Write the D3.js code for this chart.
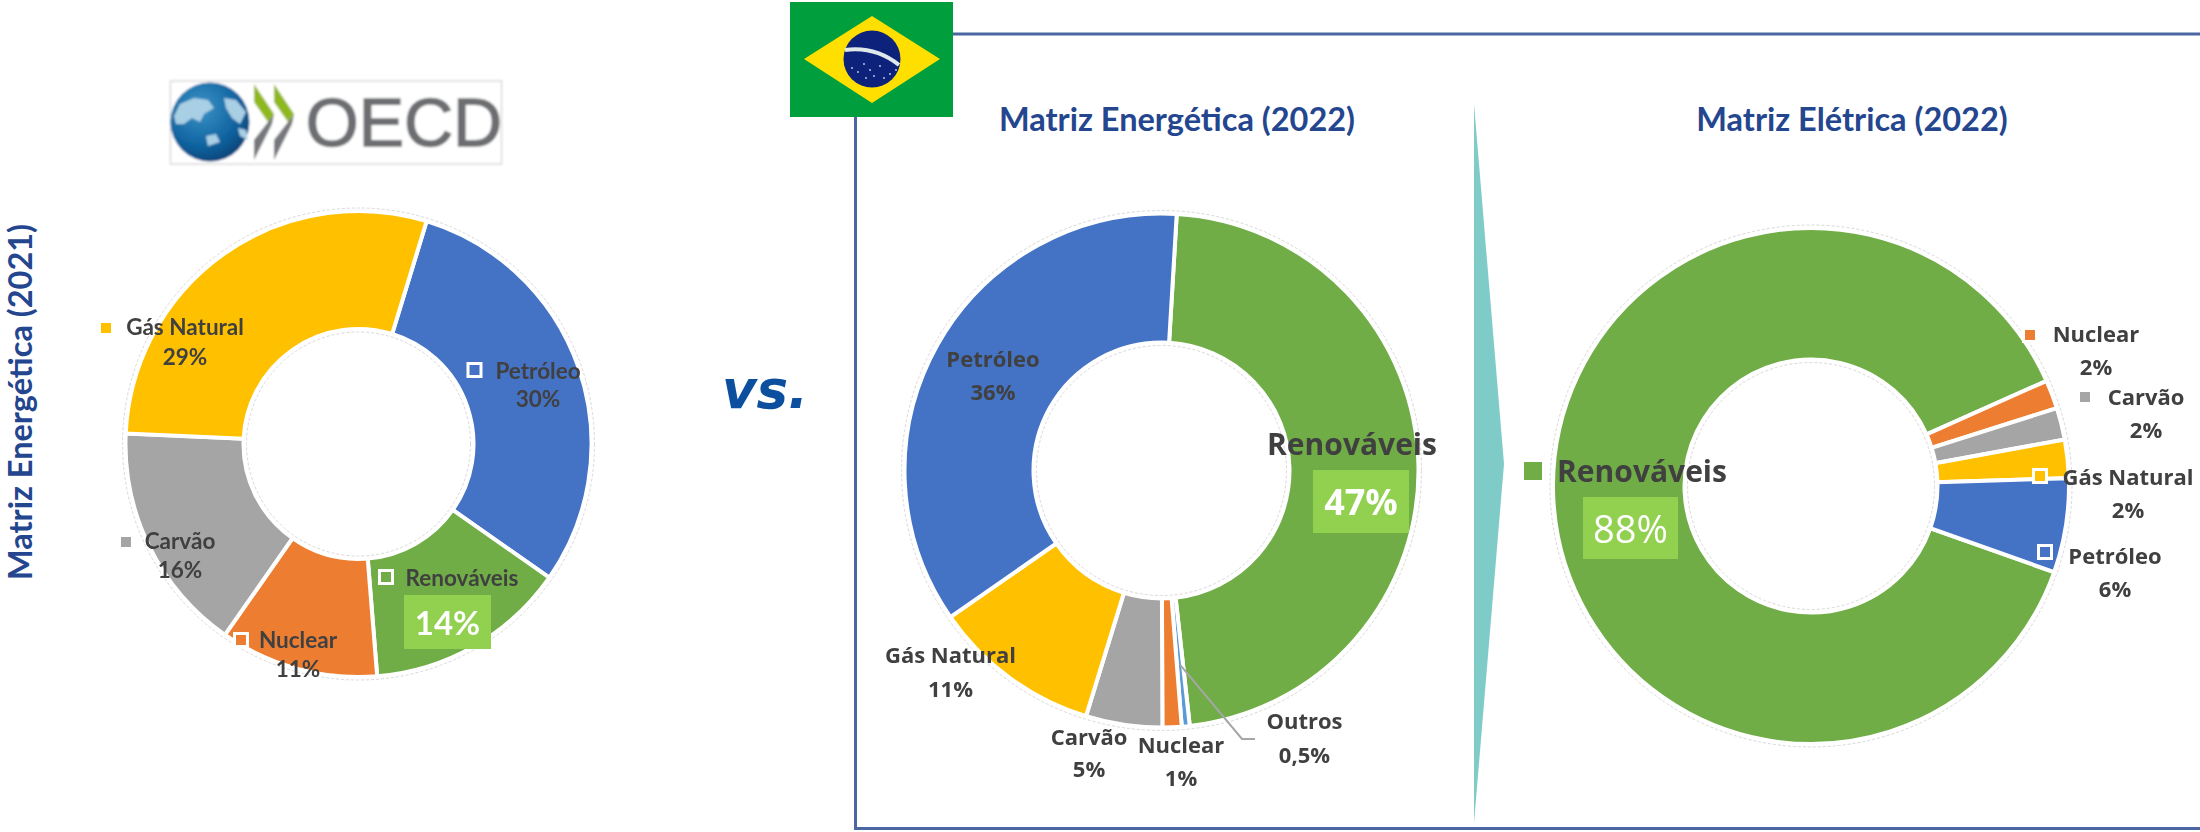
<!DOCTYPE html>
<html>
<head>
<meta charset="utf-8">
<title>Matriz Energética</title>
<script src="https://cdn.jsdelivr.net/npm/d3@7"></script>
<style>
	html, body { margin: 0; padding: 0; background: #fff; }
	svg { display: block; }
	text { font-family: Lato, "Open Sans", sans-serif; font-weight: 700; }
</style>
</head>
<body>
<div id="chart"></div>
<script>
	'use strict';

	// OECD 2021
	var oecdCategories = ["Petróleo", "Renováveis", "Nuclear", "Carvão", "Gás Natural"];
	var oecdValues = [30, 14, 11, 16, 29];
	var oecdLabels = ["30%", "14%", "11%", "16%", "29%"];

	// Brasil, energy 2022 (values a bit finer than the printed labels)
	var energiaCategories = ["Renováveis", "Outros", "Nuclear", "Carvão", "Gás Natural", "Petróleo"];
	var energiaValues = [47.3, 0.5, 1.2, 4.8, 10.6, 35.6];
	var energiaLabels = ["47%", "0,5%", "1%", "5%", "11%", "36%"];

	// Brasil, electricity 2022
	var eletricaCategories = ["Renováveis", "Nuclear", "Carvão", "Gás Natural", "Petróleo"];
	var eletricaValues = [87.9, 1.8, 2, 2.4, 5.9];
	var eletricaLabels = ["88%", "2%", "2%", "2%", "6%"];

	var colors = {
		"Petróleo": "#4472C4",
		"Renováveis": "#70AD47",
		"Nuclear": "#ED7D31",
		"Carvão": "#A5A5A5",
		"Gás Natural": "#FFC000",
		"Outros": "#5B9BD5"
	};
	var navy = "#24468f";
	var ink = "#404040";
	var boxGreen = "#92D050";
	var wide = "'Open Sans'";

	var svg = d3.select("#chart").append("svg")
		.attr("width", 2200)
		.attr("height", 832);

	var defs = svg.append("defs");
	defs.append("filter").attr("id", "soft")
		.append("feGaussianBlur").attr("stdDeviation", 0.55);
	defs.append("filter").attr("id", "softer")
		.append("feGaussianBlur").attr("stdDeviation", 0.9);
	var globeGrad = defs.append("radialGradient").attr("id", "globe")
		.attr("cx", "38%").attr("cy", "32%").attr("r", "75%");
	globeGrad.append("stop").attr("offset", "0%").attr("stop-color", "#3d94c8");
	globeGrad.append("stop").attr("offset", "65%").attr("stop-color", "#0f639f");
	globeGrad.append("stop").attr("offset", "100%").attr("stop-color", "#0a3f73");

	// one donut, categories clockwise from startDeg
	var donut = function (opts) {
		var pie = d3.pie().sort(null)
			.startAngle(opts.startDeg * Math.PI / 180)
			.endAngle((opts.startDeg + 360) * Math.PI / 180);
		var arc = d3.arc().innerRadius(opts.inner).outerRadius(opts.outer);
		var g = svg.append("g").attr("transform", "translate(" + opts.cx + "," + opts.cy + ")");

		g.selectAll("path")
			.data(pie(opts.values))
			.enter().append("path")
			.attr("d", arc)
			.attr("fill", function (d, i) { return colors[opts.categories[i]]; })
			.attr("stroke", "#fff")
			.attr("stroke-width", 4);

		// faint dashed outline Excel leaves round the ring
		[opts.outer + 3, opts.inner - 3].forEach(function (r) {
			g.append("circle")
				.attr("r", r)
				.attr("fill", "none")
				.attr("stroke", "#d9d9d9")
				.attr("stroke-width", 1)
				.attr("stroke-dasharray", "3 2");
		});
		return {g: g, pie: pie, arc: arc, cx: opts.cx, cy: opts.cy};
	};

	var centered = function (parent, str, x, y, size, color, family, weight) {
		var t = parent.append("text")
			.attr("x", x)
			.attr("y", y)
			.attr("text-anchor", "middle")
			.attr("dominant-baseline", "central")
			.attr("font-size", size)
			.attr("fill", color || ink)
			.text(str);
		if (family) {
			t.style("font-family", family);
		}
		if (weight) {
			t.style("font-weight", weight);
		}
		return t;
	};

	// frame round the Brazil panel
	svg.append("path")
		.attr("d", "M2200,34H855.5V828.5H2200")
		.attr("fill", "none")
		.attr("stroke", "#4a66a3")
		.attr("stroke-width", 3);

	// teal separator
	svg.append("path")
		.attr("d", "M1474,104L1504,464L1474,823Z")
		.attr("fill", "#7fcbc8");

	donut({cx: 358.5, cy: 444, outer: 233, inner: 115, startDeg: 17, values: oecdValues, categories: oecdCategories});
	var energia = donut({cx: 1161.5, cy: 470.5, outer: 257, inner: 128, startDeg: 3.4, values: energiaValues, categories: energiaCategories});
	donut({cx: 1811, cy: 486, outer: 258, inner: 126.5, startDeg: 109.5, values: eletricaValues, categories: eletricaCategories});

	// leader from the Outros slice out to its label
	var outrosSlice = energia.pie(energiaValues)[1];
	var outrosMid = (outrosSlice.startAngle + outrosSlice.endAngle) / 2;
	var leaderStart = d3.pointRadial(outrosMid, 195);
	svg.append("path")
		.attr("d", d3.line()([
			[energia.cx + leaderStart[0], energia.cy + leaderStart[1]],
			[1242, 739],
			[1255, 739]
		]))
		.attr("fill", "none")
		.attr("stroke", "#a6a6a6")
		.attr("stroke-width", 2);

	// labels sit above all the donuts
	var labelLayer = svg.append("g").attr("filter", "url(#soft)");

	// label block: name, percent and optional legend key
	var drawLabels = function (categories, labels, layout, size, family) {
		layout.forEach(function (p, i) {
			if (!p) {
				return;
			}
			centered(labelLayer, categories[i], p.x, p.y, size, ink, family);
			centered(labelLayer, labels[i], p.x, p.py, size, ink, family);
			if (p.kx !== undefined) {
				labelLayer.append("rect")
					.attr("x", p.kx - 6.5)
					.attr("y", p.ky - 6.5)
					.attr("width", 13)
					.attr("height", 13)
					.attr("fill", colors[categories[i]])
					.attr("stroke", "#fff")
					.attr("stroke-width", 3);
			}
		});
	};

	// highlighted renewables label
	var drawHighlight = function (name, pct, b, family) {
		centered(labelLayer, name, b.nx, b.ny, b.nameSize, ink, family);
		labelLayer.append("rect")
			.attr("x", b.x)
			.attr("y", b.y)
			.attr("width", b.w)
			.attr("height", b.h)
			.attr("fill", boxGreen);
		centered(labelLayer, pct, b.x + b.w / 2, b.y + b.h / 2, b.pctSize, "#fff", family, b.pctWeight);
		if (b.kx !== undefined) {
			labelLayer.append("rect")
				.attr("x", b.kx - b.k / 2)
				.attr("y", b.ky - b.k / 2)
				.attr("width", b.k)
				.attr("height", b.k)
				.attr("fill", colors[name])
				.attr("stroke", "#fff")
				.attr("stroke-width", 3);
		}
	};

	drawLabels(oecdCategories, oecdLabels, [
		{x: 538, y: 370, py: 398, kx: 474.5, ky: 370},
		null,
		{x: 298, y: 639, py: 668, kx: 241, ky: 640},
		{x: 180, y: 540, py: 569, kx: 126, ky: 542},
		{x: 185, y: 326, py: 356, kx: 106, ky: 328}
	], 22.5);
	drawHighlight("Renováveis", "14%", {nx: 462, ny: 577, nameSize: 22.5, x: 404, y: 595, w: 87, h: 54, pctSize: 33, kx: 386, ky: 577, k: 13});

	drawLabels(energiaCategories, energiaLabels, [
		null,
		{x: 1304.5, y: 720, py: 754},
		{x: 1181, y: 744, py: 777},
		{x: 1089, y: 736, py: 768},
		{x: 950.5, y: 654, py: 688},
		{x: 993, y: 358, py: 391}
	], 22, wide);
	drawHighlight("Renováveis", "47%", {nx: 1352, ny: 443, nameSize: 30, x: 1313, y: 470, w: 96, h: 63, pctSize: 36}, wide);

	drawLabels(eletricaCategories, eletricaLabels, [
		null,
		{x: 2096, y: 333, py: 366, kx: 2030, ky: 335},
		{x: 2146, y: 396, py: 429, kx: 2085, ky: 397},
		{x: 2128, y: 476, py: 509, kx: 2040, ky: 476},
		{x: 2115, y: 555, py: 588, kx: 2045, ky: 552}
	], 22, wide);
	drawHighlight("Renováveis", "88%", {nx: 1642, ny: 470, nameSize: 30, x: 1583, y: 497, w: 95, h: 62, pctSize: 38, pctWeight: 400, kx: 1533, ky: 471, k: 21}, wide);

	// titles
	centered(svg, "Matriz Energética (2022)", 1177, 118, 32.5, navy);
	centered(svg, "Matriz Elétrica (2022)", 1852, 118, 32.5, navy);
	centered(svg, "Matriz Energética (2021)", 0, 0, 32.5, navy)
		.attr("transform", "translate(19,402) rotate(-90)");

	svg.append("text")
		.attr("x", 765)
		.attr("y", 389)
		.attr("text-anchor", "middle")
		.attr("dominant-baseline", "central")
		.attr("font-size", 53)
		.attr("fill", "#0b4f9e")
		.style("font-family", "'DejaVu Sans'")
		.style("font-style", "italic")
		.text("vs.");

	// Brazilian flag
	var flag = svg.append("g").attr("filter", "url(#soft)");
	flag.append("rect").attr("x", 790).attr("y", 2).attr("width", 163).attr("height", 115).attr("fill", "#009E3D");
	flag.append("path").attr("d", "M872,16L940,59L872,103L804,59Z").attr("fill", "#FEDF00");
	flag.append("circle").attr("cx", 872).attr("cy", 59).attr("r", 28.5).attr("fill", "#10237a");
	flag.append("path")
		.attr("d", "M845,50Q875,46 899,65")
		.attr("fill", "none")
		.attr("stroke", "#dfe8ea")
		.attr("stroke-width", 4);
	var flagStars = [[852, 68], [858, 72], [864, 64], [870, 70], [874, 76], [880, 66], [884, 78], [890, 74], [896, 70], [866, 78]];
	flag.selectAll("circle.star")
		.data(flagStars)
		.enter().append("circle")
		.attr("class", "star")
		.attr("cx", function (d) { return d[0]; })
		.attr("cy", function (d) { return d[1]; })
		.attr("r", 0.9)
		.attr("fill", "#c9d3ea");

	// OECD logo
	var logo = svg.append("g").attr("filter", "url(#softer)");
	logo.append("rect").attr("x", 170.5).attr("y", 81).attr("width", 331).attr("height", 83)
		.attr("fill", "#fff").attr("stroke", "#cfcfcf").attr("stroke-width", 1.2);
	logo.append("circle").attr("cx", 210).attr("cy", 122).attr("r", 39.5).attr("fill", "url(#globe)");
	var logoLand = [
		"M174,116L180,104L194,98L208,100L214,108L204,114L200,122L192,118L184,124L176,124Z",
		"M224,98L236,100L246,112L240,124L232,118L226,108Z",
		"M206,136L216,134L220,142L208,146Z",
		"M238,128L246,130L248,140L240,136Z"
	];
	logo.selectAll("path.land")
		.data(logoLand)
		.enter().append("path")
		.attr("class", "land")
		.attr("d", function (d) { return d; })
		.attr("fill", "#a9cfe4");
	[254, 274].forEach(function (x0) {
		logo.append("path")
			.attr("d", "M" + x0 + ",84L" + (x0 + 20) + ",114L" + (x0 + 14) + ",122L" + x0 + ",102Z")
			.attr("fill", "#8fb81c");
		logo.append("path")
			.attr("d", "M" + (x0 + 14) + ",122L" + (x0 + 20) + ",114L" + (x0 + 18) + ",124L" + x0 + ",160L" + x0 + ",140Z")
			.attr("fill", "#77787b");
	});
	logo.append("text")
		.attr("x", 404)
		.attr("y", 122)
		.attr("text-anchor", "middle")
		.attr("dominant-baseline", "central")
		.attr("font-size", 68)
		.attr("fill", "#6d6e71")
		.attr("stroke", "#6d6e71")
		.attr("stroke-width", 1.5)
		.style("font-family", "'Liberation Sans'")
		.style("font-weight", 400)
		.text("OECD");
</script>
</body>
</html>
